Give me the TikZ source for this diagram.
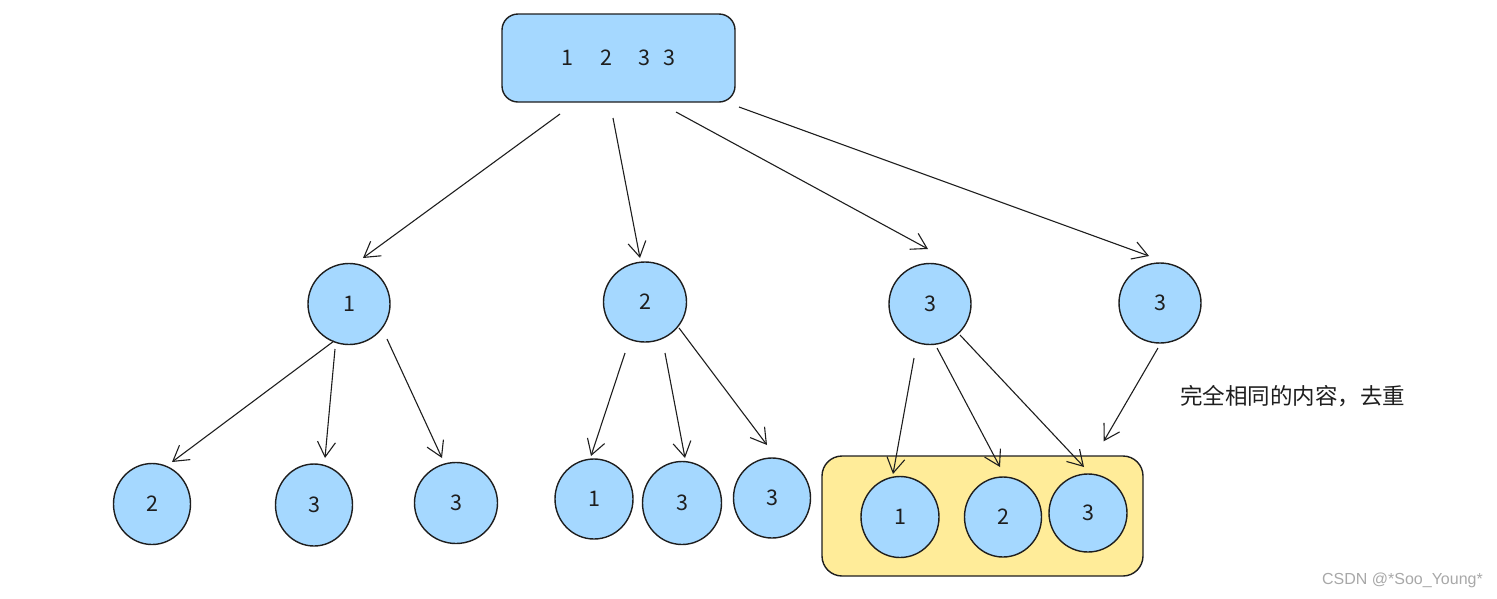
\documentclass[tikz,border=0pt]{standalone}
\usepackage{fontspec}
\setmainfont{Noto Sans CJK SC}
\newfontfamily\wmfont{Liberation Sans}
\usetikzlibrary{arrows.meta,calc,shapes.geometric}
\definecolor{skyfill}{HTML}{A5D8FF}
\definecolor{yelfill}{HTML}{FFEC99}
\definecolor{ink}{HTML}{1E1E1E}
\definecolor{wmark}{HTML}{A8A8A8}
\begin{document}
\begin{tikzpicture}[x=1pt,y=-1pt,
  ball/.style={ellipse,draw=ink,fill=skyfill,line width=1.4pt,inner sep=0pt,
    minimum width=80pt,minimum height=80pt,font=\fontsize{21.5}{25}\selectfont,text=ink},
  rbox/.style={draw=ink,line width=1.4pt,rounded corners=#1,inner sep=0pt},
  rbox/.default=16pt,
  link/.style={draw=ink,line width=1.1pt,-{Straight Barb[length=15pt,width=18pt,line width=1.1pt]}}
]
\useasboundingbox (0,0) rectangle (1497,598);

% top box
\node[rbox,fill=skyfill,minimum width=233pt,minimum height=88pt,
  font=\fontsize{21.5}{25}\selectfont,text=ink] (top) at (618.5,58)
  {1\hspace{27pt}2\hspace{26pt}3\hspace{13pt}3};

% level 1
\node[ball,minimum width=82pt,minimum height=81pt] (c1) at (349,304) {1};
\node[ball,minimum width=83pt,minimum height=80pt] (c2) at (645,302) {2};
\node[ball,minimum width=82pt,minimum height=81pt] (c3) at (930,304) {3};
\node[ball,minimum width=82pt,minimum height=80pt] (c4) at (1160,303) {3};

% yellow group box
\node[rbox=20pt,fill=yelfill,minimum width=321pt,minimum height=120pt] (grp) at (982.5,516) {};

% level 2
\node[ball,minimum width=77pt,minimum height=81pt] (a) at (152,504) {2};
\node[ball,minimum width=77pt,minimum height=82pt] (b) at (314,505) {3};
\node[ball,minimum width=83pt,minimum height=81pt] (c) at (456,503) {3};
\node[ball,minimum width=78pt,minimum height=80pt] (d) at (594,499) {1};
\node[ball,minimum width=79pt,minimum height=83pt] (e) at (682,503) {3};
\node[ball,minimum width=77pt,minimum height=80pt] (f) at (772,498) {3};
\node[ball,minimum width=78pt,minimum height=81pt] (y1) at (900,517) {1};
\node[ball,minimum width=77pt,minimum height=80pt] (y2) at (1003,517) {2};
\node[ball,minimum width=78pt,minimum height=78pt] (y3) at (1088,513) {3};

% arrows from top
\draw[link] ($(top)+(-58.5,56)$) -- ($(c1)+(14,-46)$);
\draw[link] ($(top)+(-5.5,60)$) -- ($(c2)+(-5,-44)$);
\draw[link] ($(top)+(57.5,54)$) -- ($(c3)+(-2,-55)$);
\draw[link] ($(top)+(120.5,49)$) -- ($(c4)+(-11,-47)$);

% arrows from c1
\draw[link] ($(c1)+(-15,37)$) -- ($(a)+(20,-42)$);
\draw[link] ($(c1)+(-14,45)$) -- ($(b)+(11,-47)$);
\draw[link] ($(c1)+(38,35)$) -- ($(c)+(-14,-45)$);

% arrows from c2
\draw[link] ($(c2)+(-20,51)$) -- ($(d)+(-3,-43)$);
\draw[link] ($(c2)+(20,51)$) -- ($(e)+(3,-45)$);
\draw[link] ($(c2)+(34,26)$) -- ($(f)+(-5,-53)$);

% arrows from c3
\draw[link] ($(c3)+(-16,54)$) -- ($(y1)+(-7,-43)$);
\draw[link] ($(c3)+(7,44)$) -- ($(y2)+(-3,-50)$);
\draw[link] ($(c3)+(30,31)$) -- ($(y3)+(-4,-46)$);

% arrow from c4 to group
\draw[link] ($(c4)+(-2,45)$) -- ($(grp.north east)+(-40,-14)$);

% note
\node[anchor=west,inner sep=0pt,font=\fontsize{22.5}{26}\selectfont,text=ink] (note) at (1180,396) {完全相同的内容，去重};

% watermark
\node[anchor=east,inner sep=0pt,font=\wmfont\fontsize{16}{18}\selectfont,text=wmark] (wm) at (1483,580) {CSDN @*Soo\_Young*};
\end{tikzpicture}
\end{document}
